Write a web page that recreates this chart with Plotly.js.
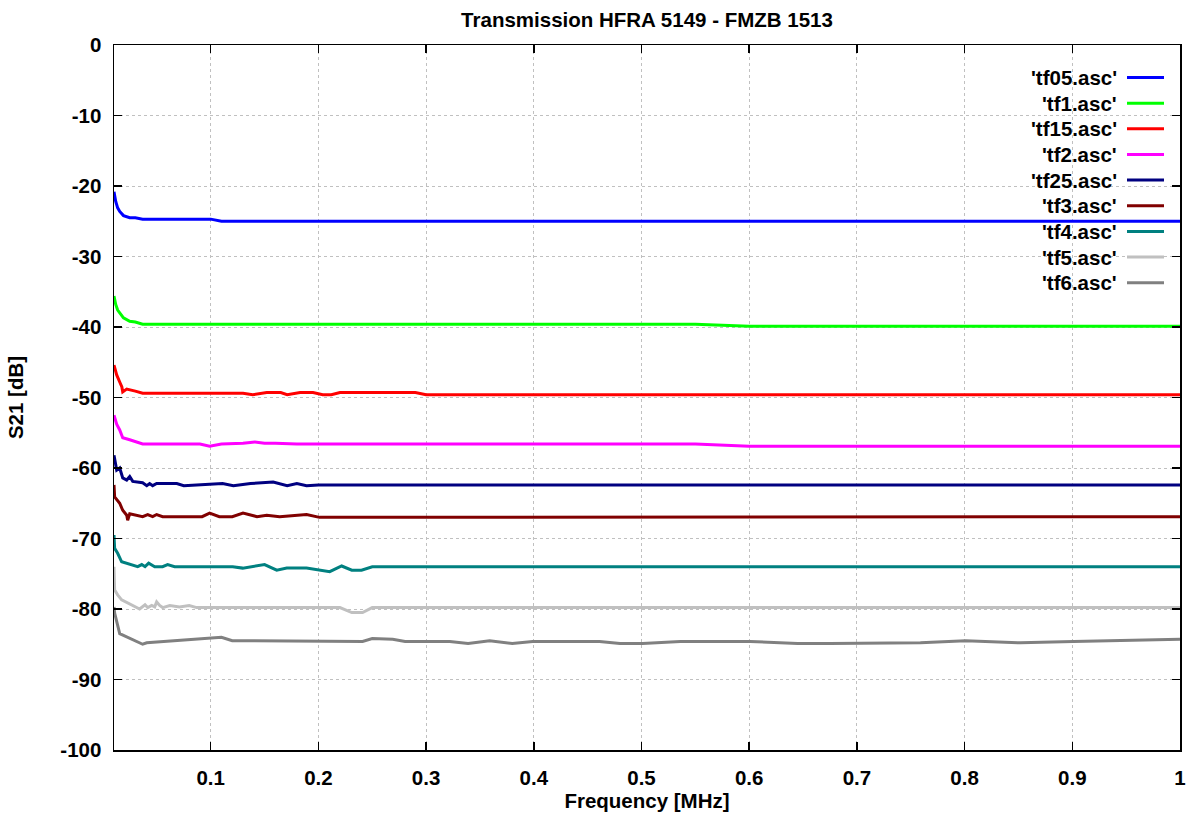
<!DOCTYPE html>
<html>
<head>
<meta charset="utf-8">
<script src="https://cdn.plot.ly/plotly-3.0.1.min.js"></script>
<style>html,body{margin:0;padding:0;background:#fff;}#chart{width:1190px;height:814px;}</style>
</head>
<body>
<div id="chart"></div>
<script>
// ---- Data (frequency in MHz, S21 in dB) ----
const seriesNames = ["'tf05.asc'", "'tf1.asc'", "'tf15.asc'", "'tf2.asc'", "'tf25.asc'", "'tf3.asc'", "'tf4.asc'", "'tf5.asc'", "'tf6.asc'"];
const seriesColors = ["#0000ff", "#00ff00", "#ff0000", "#ff00ff", "#000080", "#800000", "#008080", "#c0c0c0", "#808080"];

const tf05_x = [0.0102,0.0118,0.0136,0.0155,0.019,0.0248,0.03,0.0368,0.1,0.11,1.0];
const tf05_y = [-20.8,-22.2,-23.1,-23.6,-24.2,-24.5,-24.5,-24.7,-24.7,-25.0,-25.0];

const tf1_x = [0.0102,0.0118,0.0136,0.0155,0.019,0.0248,0.03,0.0368,0.55,0.6,1.0];
const tf1_y = [-35.6,-36.8,-37.6,-38.0,-38.7,-39.2,-39.3,-39.6,-39.6,-39.9,-39.9];

const tf15_x = [0.0102,0.0127,0.0155,0.0175,0.0183,0.022,0.03,0.0368,0.13,0.139,0.152,0.165,0.171,0.183,0.195,0.204,0.212,0.22,0.29,0.3,1.0];
const tf15_y = [-45.4,-46.8,-47.8,-48.5,-49.2,-48.8,-49.1,-49.4,-49.4,-49.6,-49.3,-49.3,-49.6,-49.3,-49.3,-49.6,-49.6,-49.3,-49.3,-49.6,-49.6];

const tf2_x = [0.0102,0.0127,0.0155,0.0183,0.0248,0.03,0.0368,0.09,0.099,0.11,0.12,0.13,0.141,0.15,0.16,0.18,0.55,0.6,1.0];
const tf2_y = [-52.5,-53.8,-54.6,-55.7,-56.0,-56.3,-56.6,-56.6,-56.9,-56.6,-56.6,-56.5,-56.3,-56.5,-56.5,-56.6,-56.6,-56.9,-56.9];

const tf25_x = [0.0102,0.0127,0.0155,0.0183,0.022,0.0248,0.0276,0.0368,0.0406,0.0433,0.0461,0.0498,0.0685,0.075,0.099,0.111,0.121,0.137,0.158,0.171,0.18,0.189,0.2,1.0];
const tf25_y = [-58.2,-60.3,-60.0,-61.4,-61.7,-61.2,-61.9,-62.1,-62.5,-62.2,-62.5,-62.2,-62.2,-62.5,-62.3,-62.2,-62.5,-62.2,-62.0,-62.5,-62.2,-62.5,-62.4,-62.4];

const tf3_x = [0.0102,0.0108,0.0155,0.0183,0.022,0.0229,0.0248,0.0313,0.0368,0.0415,0.0461,0.0498,0.0554,0.092,0.099,0.108,0.12,0.13,0.143,0.152,0.164,0.189,0.201,1.0];
const tf3_y = [-62.4,-64.1,-65.0,-66.0,-66.7,-67.4,-66.5,-66.7,-66.9,-66.6,-66.9,-66.6,-66.9,-66.9,-66.4,-66.9,-66.9,-66.4,-66.9,-66.7,-66.9,-66.6,-67.0,-66.9];

const tf4_x = [0.0102,0.0108,0.0136,0.0173,0.0322,0.036,0.039,0.0424,0.048,0.0553,0.06,0.0665,0.1204,0.1297,0.15,0.1613,0.1706,0.189,0.2105,0.2216,0.231,0.24,0.25,1.0];
const tf4_y = [-69.5,-71.4,-72.1,-73.3,-74.0,-73.7,-74.0,-73.5,-74.0,-74.0,-73.7,-74.0,-74.0,-74.2,-73.7,-74.5,-74.2,-74.2,-74.7,-73.9,-74.5,-74.5,-74.0,-74.0];

const tf5_x = [0.0102,0.0108,0.0136,0.0173,0.034,0.039,0.0415,0.0452,0.048,0.0498,0.0526,0.0554,0.062,0.071,0.080,0.087,0.22,0.231,0.241,0.25,1.0];
const tf5_y = [-74.0,-77.3,-78.0,-78.7,-80.0,-79.4,-79.8,-79.5,-79.7,-79.0,-79.5,-79.8,-79.5,-79.7,-79.5,-79.8,-79.8,-80.5,-80.5,-79.8,-79.8];

const tf6_x = [0.0102,0.0108,0.0155,0.0368,0.0406,0.0898,0.110,0.120,0.241,0.250,0.269,0.2805,0.322,0.339,0.359,0.380,0.399,0.461,0.480,0.501,0.536,0.601,0.645,0.675,0.759,0.801,0.852,0.901,1.0];
const tf6_y = [-79.7,-80.6,-83.5,-85.0,-84.8,-84.2,-84.0,-84.5,-84.6,-84.2,-84.3,-84.6,-84.6,-84.9,-84.5,-84.9,-84.6,-84.6,-84.9,-84.9,-84.6,-84.6,-84.9,-84.9,-84.8,-84.5,-84.8,-84.6,-84.3];

const xTickVals = [0.1,0.2,0.3,0.4,0.5,0.6,0.7,0.8,0.9,1.0];
const xTickText = ["0.1","0.2","0.3","0.4","0.5","0.6","0.7","0.8","0.9","1"];
const yTickVals = [0,-10,-20,-30,-40,-50,-60,-70,-80,-90,-100];
const yTickText = ["0","-10","-20","-30","-40","-50","-60","-70","-80","-90","-100"];

const allX = [tf05_x, tf1_x, tf15_x, tf2_x, tf25_x, tf3_x, tf4_x, tf5_x, tf6_x];
const allY = [tf05_y, tf1_y, tf15_y, tf2_y, tf25_y, tf3_y, tf4_y, tf5_y, tf6_y];

const FONT = "Liberation Sans, Arial, sans-serif";
const FS = 20.5;

const traces = seriesNames.map((n, i) => ({
  type: 'scatter', mode: 'lines', name: n,
  x: allX[i], y: allY[i],
  line: {color: seriesColors[i], width: 3},
  showlegend: false, hoverinfo: 'skip'
}));

// custom gnuplot-style legend (text left of sample line)
const M = {l: 114, r: 10, t: 45, b: 64};
const W = 1190, H = 814;
const pw = W - M.l - M.r, ph = H - M.t - M.b;
const px2x = px => (px - M.l) / pw;
const py2y = py => 1 - (py - M.t) / ph;

const annotations = [];
const shapes = [];
seriesNames.forEach((n, i) => {
  const py = 77.5 + 25.65 * i;
  annotations.push({
    xref: 'paper', yref: 'paper', x: px2x(1119), y: py2y(py),
    xanchor: 'right', yanchor: 'middle', showarrow: false,
    text: n, font: {family: FONT, size: FS, color: '#000', weight: 'bold'}
  });
  shapes.push({
    type: 'line', xref: 'paper', yref: 'paper',
    x0: px2x(1127), x1: px2x(1164), y0: py2y(py), y1: py2y(py),
    line: {color: seriesColors[i], width: 3}
  });
});

const axisCommon = {
  showline: true, linecolor: '#000', linewidth: 1.5, mirror: 'ticks',
  ticks: 'inside', ticklen: 8, tickwidth: 1.5, tickcolor: '#000',
  showgrid: true, gridcolor: '#c0c0c0', gridwidth: 1, griddash: 'dot',
  zeroline: false, tickmode: 'array',
  tickfont: {family: FONT, size: FS, color: '#000', weight: 'bold'}
};

const layout = {
  width: W, height: H, margin: M,
  paper_bgcolor: '#fff', plot_bgcolor: '#fff',
  title: {text: 'Transmission HFRA 5149 - FMZB 1513', x: 647 / W, xanchor: 'center', y: 1 - 20 / H, yanchor: 'middle',
          font: {family: FONT, size: FS, color: '#000', weight: 'bold'}},
  xaxis: Object.assign({}, axisCommon, {
    range: [0.0102, 1.0], tickvals: xTickVals, ticktext: xTickText, ticklabelstandoff: 9,
    title: {text: 'Frequency [MHz]', standoff: 4, font: {family: FONT, size: FS, color: '#000', weight: 'bold'}}
  }),
  yaxis: Object.assign({}, axisCommon, {
    range: [-100, 0], tickvals: yTickVals, ticktext: yTickText, ticklabelstandoff: 7,
    title: {text: 'S21 [dB]', standoff: 31, font: {family: FONT, size: FS, color: '#000', weight: 'bold'}}
  }),
  annotations: annotations, shapes: shapes, showlegend: false
};

Plotly.newPlot('chart', traces, layout, {displayModeBar: false, staticPlot: true});
</script>
</body>
</html>
